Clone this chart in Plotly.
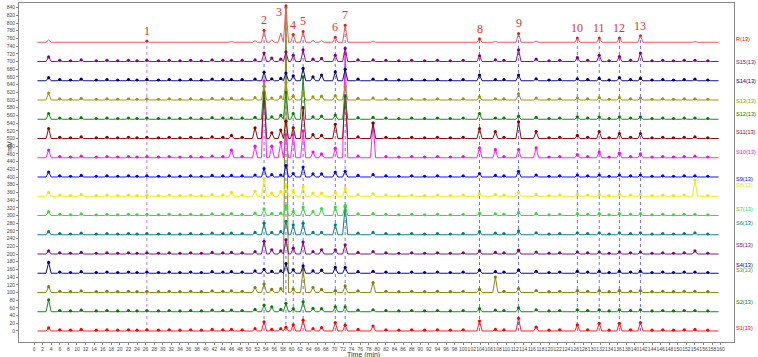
import plotly.graph_objects as go

# ---------------- data ----------------
x_ticks = list(range(0, 161, 2))
y_ticks = list(range(0, 841, 20))

# retention times (min) of the peaks picked on the chromatograms
peak_times = [3.4, 26.3, 46.0, 51.5, 53.6, 55.4, 57.5, 58.7, 60.4, 62.7, 65.0, 67.0,
              70.2, 72.5, 79.0, 103.8, 107.5, 112.9, 117.0, 126.6, 131.7, 136.4, 141.3, 154.0]
# indices of the 13 common (numbered) peaks in peak_times
common_idx = [1, 4, 7, 8, 9, 12, 13, 15, 17, 19, 20, 21, 22]
common_labels = ["1", "2", "3", "4", "5", "6", "7", "8", "9", "10", "11", "12", "13"]

# small integrated peaks along the baselines of the sample chromatograms
minor_times = [6, 8.5, 11, 14.5, 17, 19.5, 22, 24, 29, 31.5, 34, 36.5, 39, 41.5, 44, 48.5,
               75.5, 82, 85, 88, 91, 94, 97, 100, 109.5, 120, 122.5, 129, 134, 139, 144,
               146.5, 149, 151.5, 157]
minor_heights = [3, 2, 4, 2, 3, 2, 3, 2, 2, 3, 2, 3, 2, 4, 3, 3, 4, 3, 2, 3, 2, 3, 2, 3,
                 3, 2, 3, 3, 2, 3, 2, 3, 2, 3, 2]

names = ["S1(13)", "S2(13)", "S3(13)", "S4(13)", "S5(13)", "S6(13)", "S7(13)", "S8(13)",
         "S9(13)", "S10(13)", "S11(13)", "S12(13)", "S13(13)", "S14(13)", "S15(13)", "R(13)"]
baselines = [0, 50, 100, 150, 200, 250, 300, 350, 400, 450, 500, 550, 600, 650, 700, 750]

# peak heights (mV above baseline), one list per chromatogram, aligned with peak_times
h_S1 = [8, 3, 4, 6, 24, 4, 6, 10, 16, 28, 6, 9, 22, 15, 13, 26, 4, 33, 10, 16, 20, 20, 22, 4]
h_S2 = [31, 3, 4, 6, 17, 13, 6, 22, 8, 26, 9, 8, 13, 13, 5, 8, 4, 10, 5, 5, 5, 5, 5, 3]
h_S3 = [15, 3, 4, 13, 22, 8, 10, 740, 9, 60, 13, 8, 5, 17, 26, 8, 40, 10, 5, 5, 5, 5, 5, 3]
h_S4 = [28, 3, 4, 6, 10, 5, 6, 25, 9, 19, 6, 8, 15, 15, 5, 8, 4, 8, 5, 5, 5, 5, 5, 3]
h_S5 = [8, 3, 4, 6, 33, 11, 8, 37, 15, 31, 6, 11, 11, 24, 6, 8, 4, 10, 5, 5, 5, 5, 5, 8]
h_S6 = [8, 3, 4, 6, 30, 6, 8, 35, 26, 30, 6, 6, 26, 73, 6, 8, 4, 10, 5, 5, 5, 5, 5, 5]
h_S7 = [10, 3, 5, 6, 17, 5, 6, 25, 10, 22, 10, 18, 22, 26, 5, 6, 4, 8, 5, 5, 5, 5, 5, 3]
h_S8 = [10, 3, 10, 13, 46, 8, 12, 30, 15, 25, 8, 8, 10, 20, 6, 6, 4, 10, 5, 5, 5, 5, 5, 42]
h_S9 = [13, 3, 4, 5, 22, 6, 5, 30, 9, 26, 8, 8, 13, 15, 6, 9, 4, 15, 5, 5, 5, 5, 5, 3]
h_S10 = [20, 3, 20, 30, 200, 30, 40, 60, 60, 70, 15, 10, 25, 270, 90, 26, 21, 21, 26, 8, 15, 12, 10, 4]
h_S11 = [26, 3, 8, 28, 120, 15, 22, 45, 28, 80, 10, 8, 37, 110, 40, 26, 18, 43, 18, 8, 18, 13, 13, 4]
h_S12 = [15, 3, 3, 5, 85, 6, 10, 70, 15, 110, 6, 8, 11, 60, 5, 15, 3, 8, 5, 6, 6, 6, 6, 3]
h_S13 = [18, 3, 4, 6, 37, 5, 8, 45, 10, 20, 8, 10, 11, 35, 5, 8, 3, 16, 5, 5, 6, 6, 5, 3]
h_S14 = [8, 3, 3, 4, 22, 5, 6, 20, 13, 32, 10, 15, 23, 30, 4, 15, 3, 15, 5, 5, 6, 8, 6, 4]
h_S15 = [12, 3, 3, 4, 22, 9, 6, 25, 16, 30, 6, 8, 16, 34, 4, 15, 4, 30, 6, 10, 16, 13, 22, 3]
h_R = [6, 3, 2, 4, 31, 6, 24, 95, 20, 28, 5, 4, 13, 44, 3, 9, 2, 23, 3, 11, 11, 11, 17, 2]

heights = [h_S1, h_S2, h_S3, h_S4, h_S5, h_S6, h_S7, h_S8, h_S9, h_S10,
           h_S11, h_S12, h_S13, h_S14, h_S15, h_R]

# ---------------- styling ----------------
line_colors = ["#ff2020", "#1a8a1a", "#8a8a10", "#10107a", "#8a108a", "#108080", "#3cd83c",
               "#f0f000", "#1010f0", "#ff20ff", "#8b1010", "#1a8a1a", "#9a9a10", "#10107a",
               "#8a108a", "#f05a5a"]
label_colors = ["#ff0000", "#008000", "#808000", "#000080", "#800080", "#008080", "#33dd33",
                "#e8e800", "#0000ff", "#ff00ff", "#8b0000", "#008000", "#999900", "#000080",
                "#800080", "#ff0000"]
label_yshift = [3, 10, 22, 8, 9, 12, 7, 11, -2, 6, 7, 5, -1, 0, 0, 3]

HALF_W = 0.6
T_START, T_END = 0.8, 159.5

fig = go.Figure()

# dotted guide lines through the common peaks
for k, idx in enumerate(common_idx):
    t = peak_times[idx]
    top = baselines[-1] + h_R[idx]
    fig.add_shape(type="line", xref="x", yref="y", x0=t, x1=t, y0=0, y1=top,
                  line=dict(color="#c47ad0" if k == 0 else "#6f6fe8", width=1, dash="dot"),
                  layer="below")

for i, name in enumerate(names):
    base = baselines[i]
    hs = heights[i]
    is_ref = name.startswith("R")
    pk = list(zip(peak_times, hs))
    if not is_ref:
        pk += list(zip(minor_times, minor_heights))
    pk.sort()
    xs, ys = [T_START], [base]
    for t, h in pk:
        xs += [t - HALF_W, t, t + HALF_W]
        ys += [base, base + h, base]
    xs.append(T_END)
    ys.append(base)
    fig.add_trace(go.Scatter(x=xs, y=ys, mode="lines", name=name,
                             line=dict(color=line_colors[i], width=1), showlegend=False,
                             hoverinfo="skip"))
    if is_ref:
        mx = [peak_times[j] for j in common_idx]
        my = [base + hs[j] for j in common_idx]
        msize = 3
    else:
        mx = [p[0] for p in pk]
        my = [base + p[1] for p in pk]
        msize = 3.2
    fig.add_trace(go.Scatter(x=mx, y=my, mode="markers", showlegend=False,
                             marker=dict(color=label_colors[i] if not is_ref else "#e02020",
                                         size=msize), hoverinfo="skip"))
    fig.add_annotation(xref="paper", yref="y", x=1, y=base, xanchor="left", yanchor="middle",
                       xshift=0, yshift=label_yshift[i], showarrow=False, text=name,
                       font=dict(family="Arial", size=5.6, color=label_colors[i]))

# common peak numbers above the reference chromatogram
for k, idx in enumerate(common_idx):
    t = peak_times[idx]
    top = baselines[-1] + h_R[idx]
    if common_labels[k] == "3":
        fig.add_annotation(x=t, y=828, xanchor="right", yanchor="middle", xshift=-2,
                           showarrow=False, text="3",
                           font=dict(family="Liberation Serif", size=12, color="#e03030"))
    else:
        fig.add_annotation(x=t, y=top, xanchor="center", yanchor="bottom", yshift=1,
                           showarrow=False, text=common_labels[k],
                           font=dict(family="Liberation Serif", size=12, color="#e03030"))

fig.add_annotation(x=76.7, xref="x", yref="paper", y=0, yanchor="top", yshift=-7,
                   showarrow=False, text="Time (min)",
                   font=dict(family="Arial", size=7, color="#333"))
fig.add_annotation(xref="paper", x=0, xshift=-15, y=480, yref="y", textangle=-90,
                   showarrow=False, text="mV", font=dict(family="Arial", size=7, color="#333"))

fig.update_layout(
    width=758, height=357,
    margin=dict(l=19, r=24, t=3, b=15),
    plot_bgcolor="white", paper_bgcolor="white",
    xaxis=dict(range=[-3.5, 163.1], tickvals=x_ticks, ticktext=[str(v) for v in x_ticks],
               tickangle=0,
               tickfont=dict(family="Arial", size=5, color="#444"), ticks="outside",
               ticklen=2, tickcolor="#888", showgrid=False, zeroline=False,
               showline=True, linecolor="#888", linewidth=1, mirror=True),
    yaxis=dict(range=[-28.6, 852], tickvals=y_ticks, ticktext=[str(v) for v in y_ticks],
               tickfont=dict(family="Arial", size=5, color="#444"), ticks="outside",
               ticklen=2, tickcolor="#888", showgrid=False, zeroline=False,
               showline=True, linecolor="#888", linewidth=1, mirror=True),
)

fig.write_html("out.html")
